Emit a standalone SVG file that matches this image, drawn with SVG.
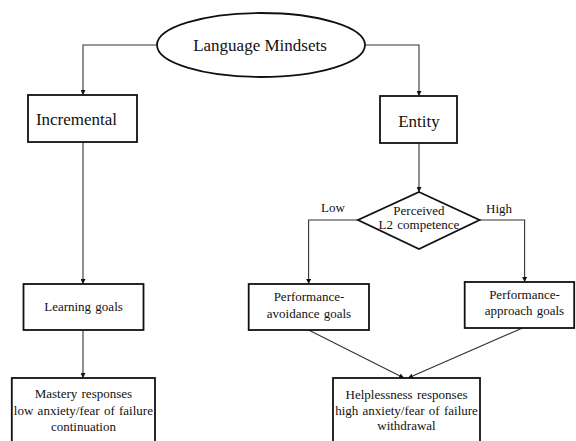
<svg xmlns="http://www.w3.org/2000/svg" width="576" height="441" viewBox="0 0 576 441">
<defs>
<marker id="arr" viewBox="0 0 10 10" refX="10" refY="5" markerWidth="5" markerHeight="5" orient="auto" markerUnits="userSpaceOnUse">
<path d="M0,0 L10,5 L0,10 z" fill="#111"/>
</marker>
<style>
.box{fill:#fff;stroke:#111;stroke-width:1.8}
.conn{fill:none;stroke:#333;stroke-width:1.1;marker-end:url(#arr)}
text{font-family:'Liberation Serif','Times New Roman','DejaVu Serif',serif;fill:#111;text-anchor:middle}
.big{font-size:17px}
.sm{font-size:13px;word-spacing:1px}
</style>
</defs>
<rect width="576" height="441" fill="#fff"/>
<g id="connectors">
<path class="conn" d="M157,45 H83 V95"/>
<path class="conn" d="M365,45 H419 V96"/>
<path class="conn" d="M83,142 V284"/>
<path class="conn" d="M419,143 V192"/>
<path class="conn" d="M358,220 H308.6 V284"/>
<path class="conn" d="M479.5,220 H524.6 V282"/>
<path class="conn" d="M83,330 V378"/>
<path class="conn" d="M308.6,330 L404,378"/>
<path class="conn" d="M522.4,328 L408,378"/>
</g>
<g id="mindsets">
<ellipse class="box" cx="261" cy="45" rx="104" ry="32"/>
<text class="big" x="260" y="51">Language Mindsets</text>
</g>
<g id="incremental">
<rect class="box" x="28" y="95" width="109" height="47"/>
<text class="big" x="76.5" y="125">Incremental</text>
</g>
<g id="entity">
<rect class="box" x="380" y="96" width="77" height="47"/>
<text class="big" x="419" y="127">Entity</text>
</g>
<g id="competence">
<polygon class="box" points="419,192 479.5,220 419,249 358,220"/>
<text class="sm" x="419" y="215">Perceived</text>
<text class="sm" x="419" y="229">L2 competence</text>
</g>
<g id="labels">
<text class="sm" x="333" y="212">Low</text>
<text class="sm" x="499" y="213">High</text>
</g>
<g id="learning">
<rect class="box" x="23.5" y="284" width="120" height="46"/>
<text class="sm" x="83.5" y="311">Learning goals</text>
</g>
<g id="avoidance">
<rect class="box" x="248.7" y="284" width="120.3" height="46"/>
<text class="sm" x="309" y="301">Performance-</text>
<text class="sm" x="309" y="318">avoidance goals</text>
</g>
<g id="approach">
<rect class="box" x="464.7" y="282" width="109.5" height="46"/>
<text class="sm" x="524.5" y="299">Performance-</text>
<text class="sm" x="524.5" y="315">approach goals</text>
</g>
<g id="mastery">
<rect class="box" x="11.8" y="378" width="143.2" height="70"/>
<text class="sm" x="83.4" y="398">Mastery responses</text>
<text class="sm" x="83.4" y="415">low anxiety/fear of failure</text>
<text class="sm" x="83.4" y="431">continuation</text>
</g>
<g id="helplessness">
<rect class="box" x="333" y="378" width="147" height="70"/>
<text class="sm" x="406.5" y="399">Helplessness responses</text>
<text class="sm" x="406.5" y="415">high anxiety/fear of failure</text>
<text class="sm" x="406.5" y="430">withdrawal</text>
</g>
</svg>
